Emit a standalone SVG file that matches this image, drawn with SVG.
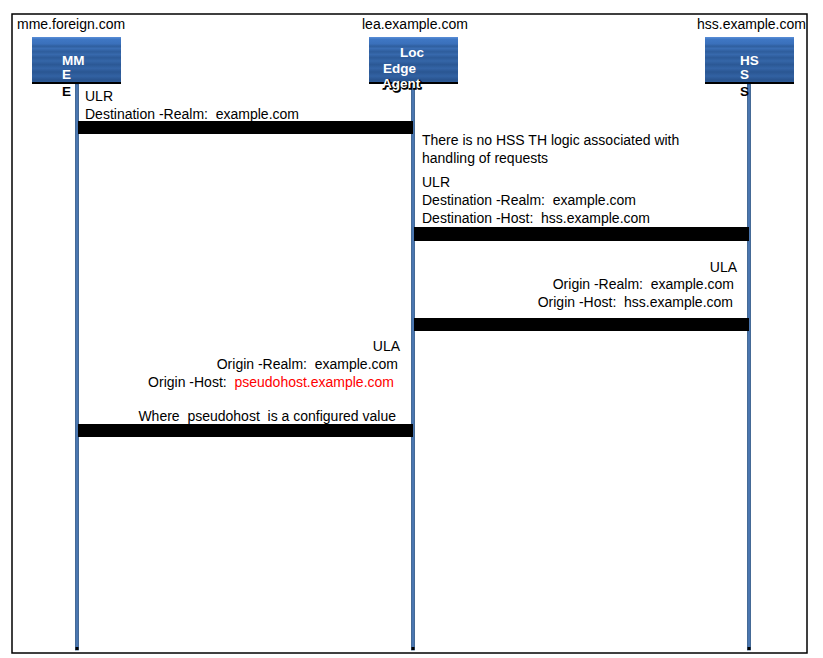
<svg xmlns="http://www.w3.org/2000/svg" width="823" height="658" viewBox="0 0 823 658">
<style>
  text { font-family: "Liberation Sans", Arial, sans-serif; font-size: 14px; fill: #000; }
  .node { font-weight: bold; font-size: 13.5px; fill: #fff; }
  .shadow { font-weight: bold; font-size: 13.5px; fill: #000; }
  .halo { font-weight: bold; font-size: 13.5px; fill: #000; stroke: #000; stroke-width: 1.6; }
  .r { text-anchor: end; }
  .bar { fill: #000; }
  .life { fill: #4a76b0; stroke: #2e5687; stroke-width: 0.8; }
  .red { fill: #ff0000; }
</style>
<defs>
  <linearGradient id="boxg" x1="0" y1="0" x2="0" y2="1">
    <stop offset="0" stop-color="#5b8fd8"/>
    <stop offset="0.05" stop-color="#3f77c4"/>
    <stop offset="0.15" stop-color="#3a70bb"/>
    <stop offset="0.2" stop-color="#2f5f9f"/>
    <stop offset="0.25" stop-color="#3a6db3"/>
    <stop offset="0.32" stop-color="#2e5d9c"/>
    <stop offset="0.38" stop-color="#3769ad"/>
    <stop offset="0.45" stop-color="#2c5a98"/>
    <stop offset="0.52" stop-color="#3566a8"/>
    <stop offset="0.6" stop-color="#2b5895"/>
    <stop offset="0.68" stop-color="#3464a6"/>
    <stop offset="0.76" stop-color="#2a5692"/>
    <stop offset="0.85" stop-color="#3262a3"/>
    <stop offset="0.93" stop-color="#29548f"/>
    <stop offset="1" stop-color="#2f5d9b"/>
  </linearGradient>
</defs>

<rect x="12" y="14" width="795" height="639" fill="#fff" stroke="#000" stroke-width="1.5"/>

<g id="connectors">
  <rect class="life" x="75.5" y="84" width="3" height="566"/>
  <rect class="life" x="411.5" y="84" width="3" height="566"/>
  <rect class="life" x="747.5" y="84" width="3" height="566"/>
  <rect x="75.5" y="647" width="3" height="3" fill="#000"/>
  <rect x="411.5" y="647" width="3" height="3" fill="#000"/>
  <rect x="747.5" y="647" width="3" height="3" fill="#000"/>
  <rect class="bar" x="78" y="121" width="335" height="13"/>
  <rect class="bar" x="414" y="227" width="335" height="14"/>
  <rect class="bar" x="414" y="318" width="335" height="13"/>
  <rect class="bar" x="78" y="424" width="335" height="13"/>
</g>

<g id="node-mme">
  <text x="17" y="29">mme.foreign.com</text>
  <rect x="32" y="37" width="89" height="46" fill="url(#boxg)"/>
  <rect x="32" y="82" width="89" height="2" fill="#000"/>
  <text class="node" x="62" y="65">MM</text>
  <text class="node" x="62" y="79">E</text>
  <text class="shadow" x="62" y="96">E</text>
</g>

<g id="node-lea">
  <text x="362" y="29">lea.example.com</text>
  <rect x="369" y="37" width="89" height="46" fill="url(#boxg)"/>
  <rect x="369" y="82" width="89" height="2" fill="#000"/>
  <text class="node" x="400" y="57">Loc</text>
  <text class="node" x="383" y="73">Edge</text>
  <text class="halo" x="383" y="89">Agent</text>
  <text class="node" x="382" y="88">Agent</text>
</g>

<g id="node-hss">
  <text x="697" y="29">hss.example.com</text>
  <rect x="705" y="37" width="89" height="46" fill="url(#boxg)"/>
  <rect x="705" y="82" width="89" height="2" fill="#000"/>
  <text class="node" x="740" y="65">HS</text>
  <text class="node" x="740" y="79">S</text>
  <text class="shadow" x="740" y="96">S</text>
</g>

<g id="labels">
  <text x="85" y="101">ULR</text>
  <text x="85" y="119" xml:space="preserve">Destination -Realm:  example.com</text>

  <text x="422" y="145">There is no HSS TH logic associated with</text>
  <text x="422" y="163">handling of requests</text>

  <text x="422" y="187">ULR</text>
  <text x="422" y="205" xml:space="preserve">Destination -Realm:  example.com</text>
  <text x="422" y="223" xml:space="preserve">Destination -Host:  hss.example.com</text>

  <text class="r" x="737" y="272">ULA</text>
  <text class="r" x="734" y="289" xml:space="preserve">Origin -Realm:  example.com</text>
  <text class="r" x="733" y="307" xml:space="preserve">Origin -Host:  hss.example.com</text>

  <text class="r" x="400" y="351">ULA</text>
  <text class="r" x="398" y="369" xml:space="preserve">Origin -Realm:  example.com</text>
  <text class="r" x="394" y="387" xml:space="preserve">Origin -Host:  <tspan class="red">pseudohost.example.com</tspan></text>
  <text class="r" x="396" y="421" xml:space="preserve">Where  pseudohost  is a configured value</text>
</g>
</svg>
